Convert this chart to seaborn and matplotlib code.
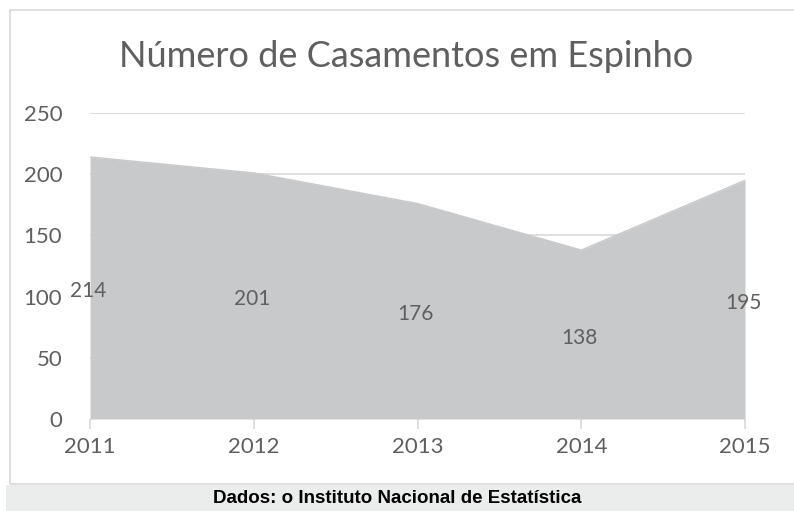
import matplotlib
matplotlib.use("Agg")
import matplotlib.pyplot as plt
import seaborn as sns
import pandas as pd
from matplotlib.patches import Rectangle

# Chart data
years = [2011, 2012, 2013, 2014, 2015]
casamentos = [214, 201, 176, 138, 195]
y_ticks = [0, 50, 100, 150, 200, 250]

df = pd.DataFrame({'Ano': years, 'Casamentos': casamentos})

sns.set_theme(style='white')
plt.rcParams['font.family'] = ['Lato', 'DejaVu Sans']

text_color = '#5f5f5f'
area_color = '#c8c9cb'
grid_color = '#d9d9d9'

fig = plt.figure(figsize=(7.94, 5.11), dpi=100)
ax = fig.add_axes([0.1134, 0.180, 0.8249, 0.599])

# gridlines behind the area
for v in y_ticks:
    ax.axhline(v, color=grid_color, lw=1.2, zorder=0)

ax.fill_between(df['Ano'], df['Casamentos'], color=area_color, lw=0, zorder=1)
sns.lineplot(data=df, x='Ano', y='Casamentos', color=area_color, lw=1, ax=ax, zorder=1)

# value labels in the middle of the area
for x, v in zip(df['Ano'], df['Casamentos']):
    ax.text(x - 0.012, v / 2 - 2.5, str(v), ha='center', va='center',
            fontsize=15, color=text_color, zorder=3)

ax.set_xlim(2011, 2015)
ax.set_ylim(0, 250)
ax.set_xticks(years)
ax.set_xticklabels([str(y) for y in years])
ax.set_yticks(y_ticks)
ax.set_xlabel('')
ax.set_ylabel('')
for s in ax.spines.values():
    s.set_visible(False)
ax.tick_params(axis='x', colors=grid_color, length=7, width=1.2, pad=6,
               labelcolor=text_color, labelsize=16, bottom=True, direction='out')
ax.tick_params(axis='y', length=0, pad=20, labelcolor=text_color, labelsize=16)
ax.set_facecolor('none')

fig.text(0.511, 0.889, 'Número de Casamentos em Espinho', ha='center', va='center',
         fontsize=26, color=text_color)

# outer frame and source band
fig.patches.append(Rectangle((10 / 794, 27 / 511), 1.2, 474 / 511, transform=fig.transFigure,
                             facecolor='none', edgecolor=grid_color, lw=1.2, zorder=0))
fig.patches.append(Rectangle((6 / 794, 0), 1.0, 26 / 511, transform=fig.transFigure,
                             facecolor='#ebecec', edgecolor='none', zorder=1))
fig.text(0.5, 13 / 511, 'Dados: o Instituto Nacional de Estatística', ha='center', va='center',
         fontsize=13.5, fontweight='bold', color='black',
         family=['Liberation Sans Narrow', 'Liberation Sans', 'DejaVu Sans'])

fig.savefig('out.png', dpi=100)
